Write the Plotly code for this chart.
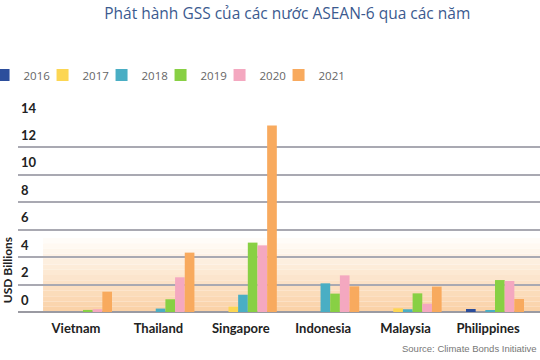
import plotly.graph_objects as go

countries = ["Vietnam", "Thailand", "Singapore", "Indonesia", "Malaysia", "Philippines"]
years = ["2016", "2017", "2018", "2019", "2020", "2021"]
v2016 = [0, 0, 0, 0, 0, 0.22]
v2017 = [0, 0, 0.39, 0, 0.27, 0]
v2018 = [0, 0.25, 1.26, 2.09, 0.2, 0.1]
v2019 = [0.15, 0.93, 5.06, 1.34, 1.36, 2.33]
v2020 = [0.2, 2.53, 4.86, 2.67, 0.6, 2.26]
v2021 = [1.48, 4.33, 13.6, 1.87, 1.85, 0.95]
y_ticks = [0, 2, 4, 6, 8, 10, 12, 14]

series = [v2016, v2017, v2018, v2019, v2020, v2021]
colors = ["#2c4e9c", "#fcd653", "#4aaec4", "#88d044", "#f4a8c0", "#f8aa5e"]

fig = go.Figure()
for name, vals, c in zip(years, series, colors):
    fig.add_trace(go.Bar(x=countries, y=vals, name=name, marker=dict(color=c, line=dict(width=0))))
# invisible spacer entry so the last legend label is not clipped
fig.add_trace(go.Scatter(x=[None], y=[None], mode="markers", name=" ",
                         marker=dict(color="rgba(0,0,0,0)"), hoverinfo="skip"))

# gradient band
n = 14
top = 5.4
c0 = (250, 210, 168)
c1 = (255, 252, 248)
for i in range(n):
    t = i / (n - 1)
    r = round(c0[0] + (c1[0] - c0[0]) * t)
    g = round(c0[1] + (c1[1] - c0[1]) * t)
    b = round(c0[2] + (c1[2] - c0[2]) * t)
    fig.add_shape(type="rect", xref="paper", yref="y", x0=0.048, x1=1,
                  y0=top * i / n, y1=top * (i + 1) / n,
                  fillcolor=f"rgb({r},{g},{b})", line=dict(width=0), layer="below")

fig.update_layout(
    width=540, height=360,
    margin=dict(l=18, r=0, t=120, b=48, autoexpand=False),
    paper_bgcolor="white", plot_bgcolor="white",
    barmode="group", bargap=0.296, bargroupgap=0,
    title=dict(text="Phát hành GSS của các nước ASEAN-6 qua các năm",
               x=0.532, xanchor="center", xref="container", y=0.963, yanchor="middle",
               font=dict(family="Open Sans", size=15.5, color="#3b5a8f")),
    legend=dict(orientation="h", x=-0.066, xanchor="left", y=1.234, yanchor="middle",
                font=dict(family="Open Sans", size=11.5, color="#666666"),
                entrywidth=14, entrywidthmode="pixels", itemwidth=30,
                traceorder="normal"),
    xaxis=dict(range=[-0.789, 5.546], showgrid=False, showline=False,
               ticks="", ticklabelstandoff=7, ticklabelshift=-7,
               tickfont=dict(family="Lato", size=13, color="#222222", weight="bold")),
    yaxis=dict(range=[0, 14], tickvals=y_ticks, showgrid=True,
               gridcolor="#a9a9b2", gridwidth=1.5, zeroline=True,
               zerolinecolor="#9a9aa2", zerolinewidth=1.5,
               ticklabelposition="inside", ticklabelshift=-12, ticklabelstandoff=0,
               ticklabeloverflow="allow",
               tickfont=dict(family="Lato", size=13, color="#222222", weight="bold")),
    font=dict(family="Lato"),
    annotations=[
        dict(text="<b>USD Billions</b>", textangle=-90, xref="paper", yref="paper",
             x=-0.021, y=0.218, xanchor="center", yanchor="middle", showarrow=False,
             font=dict(family="Lato", size=12, color="#222222")),
        dict(text="Source: Climate Bonds Initiative", xref="paper", yref="paper",
             x=0.998, y=-0.19, xanchor="right", yanchor="middle", showarrow=False,
             font=dict(family="Liberation Sans", size=9.5, color="#777777")),
    ],
)

fig.write_html("out.html", config={"displayModeBar": False},
               post_script="document.body.style.margin='0px';")
